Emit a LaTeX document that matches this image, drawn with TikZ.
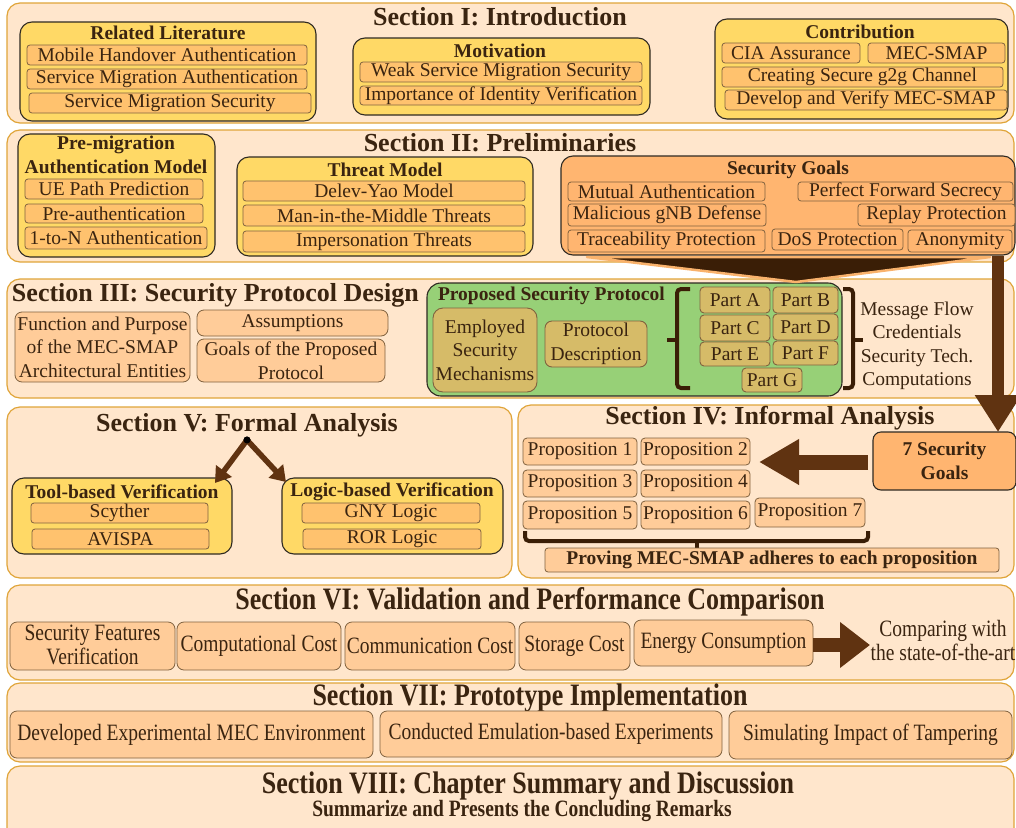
\documentclass[tikz,border=0pt]{standalone}
\usepackage{fontspec}
\usepackage{graphicx}
\setmainfont{Liberation Serif}
\usetikzlibrary{arrows.meta}

\definecolor{panelfill}{HTML}{FFE6CC}
\definecolor{panelline}{HTML}{E0A53A}
\definecolor{goldfill}{HTML}{FFD966}
\definecolor{goldsub}{HTML}{FFC26E}
\definecolor{lightor}{HTML}{FFCC99}
\definecolor{sgfill}{HTML}{FFB570}
\definecolor{protfill}{HTML}{97D077}
\definecolor{khaki}{HTML}{D6BB68}
\definecolor{ink}{HTML}{3A2410}
\definecolor{darkline}{HTML}{2F2A22}
\definecolor{subline}{HTML}{80623F}
\definecolor{arrowbrown}{HTML}{603311}
\definecolor{funnelfill}{HTML}{3A1E06}
\definecolor{funnelrim}{HTML}{F9B26C}

\newcommand{\bodyfont}{\fontsize{19.5}{23.5}\selectfont}
\newcommand{\ttlfont}{\fontsize{26}{28}\selectfont\bfseries}
\newcommand{\tall}[1]{\scalebox{1}[1.2]{#1}}
\newcommand{\tallstack}[1]{\scalebox{1}[1.2]{\fontsize{19.5}{19.5}\selectfont\begin{tabular}{@{}c@{}}#1\end{tabular}}}
% box from corner (x1,y1) to corner (x2,y2), in pixel units
\newcommand{\bx}[7]{%
  \node[#2, minimum width={(#5-#3)*1pt}, minimum height={(#6-#4)*1pt}] (#1) at ({(#3+#5)/2},{(#4+#6)/2}) {#7};}

\tikzset{
  panel/.style={fill=panelfill, draw=panelline, line width=1.2pt, rounded corners=13pt},
  goldbox/.style={fill=goldfill, draw=darkline, line width=1.1pt, rounded corners=12pt},
  sub/.style={fill=goldsub, draw=subline, line width=0.8pt, rounded corners=3pt},
  obox/.style={fill=lightor, draw=subline, line width=0.8pt, rounded corners=7pt},
  sgbox/.style={fill=sgfill, draw=darkline, line width=1.1pt, rounded corners=12pt},
  sgsub/.style={fill=sgfill, draw=subline, line width=0.8pt, rounded corners=3pt},
  protbox/.style={fill=protfill, draw=darkline, line width=1.1pt, rounded corners=14pt},
  kbox/.style={fill=khaki, draw=subline, line width=0.9pt, rounded corners=4pt},
  hdr/.style={font=\bodyfont\bfseries},
  ttl/.style={font=\ttlfont},
  bracket/.style={draw=funnelfill, line width=4pt, rounded corners=4pt},
  fatarrow/.style={draw=arrowbrown, line width=5.5pt, -{Triangle[width=19pt,length=15pt]}},
}

\begin{document}
\begin{tikzpicture}[x=1pt, y=-1pt,
  every node/.append style={font=\bodyfont, text=ink, inner sep=0pt, outer sep=0pt, align=center}]
\clip (0,0) rectangle (1016,827);
\fill[white] (0,0) rectangle (1016,827);

% ---------------- Section I ----------------
\bx{s1}{panel}{7}{3}{1014}{123}{}
\node[ttl] (s1T) at (500,17) {Section I: Introduction};
\bx{rl}{goldbox}{20}{22}{316}{121}{}
\node[hdr] (rlH) at (168,33) {Related Literature};
\bx{rl1}{sub}{27}{45}{307}{65}{Mobile Handover Authentication}
\bx{rl2}{sub}{27}{69}{307}{89}{Service Migration Authentication}
\bx{rl3}{sub}{29}{93}{311}{113}{Service Migration Security}
\bx{mo}{goldbox}{353}{38}{650}{115}{}
\node[hdr] (moH) at (500,51) {Motivation};
\bx{mo1}{sub}{360}{62}{642}{82}{Weak Service Migration Security}
\bx{mo2}{sub}{360}{86}{642}{105}{Importance of Identity Verification}
\bx{co}{goldbox}{715}{19}{1008}{119}{}
\node[hdr] (coH) at (860,32) {Contribution};
\bx{co1}{sub}{722}{43}{860}{63}{CIA Assurance}
\bx{co2}{sub}{868}{43}{1005}{63}{MEC-SMAP}
\bx{co3}{sub}{722}{67}{1003}{87}{Creating Secure g2g Channel}
\bx{co4}{sub}{725}{90}{1007}{110}{Develop and Verify MEC-SMAP}

% ---------------- Section II ----------------
\bx{s2}{panel}{7}{130}{1014}{262}{}
\node[ttl] (s2T) at (500,143) {Section II: Preliminaries};
\bx{pm}{goldbox}{18}{134}{215}{257}{}
\node[hdr] (pmH1) at (116,145) {Pre-migration};
\node[hdr] (pmH2) at (116,167) {Authentication Model};
\bx{pm1}{sub}{25}{179}{203}{199}{UE Path Prediction}
\bx{pm2}{sub}{25}{204}{203}{223}{Pre-authentication}
\bx{pm3}{sub}{25}{227}{207}{249}{1-to-N Authentication}
\bx{tm}{goldbox}{237}{157}{533}{256}{}
\node[hdr] (tmH) at (385,170) {Threat Model};
\bx{tm1}{sub}{243}{181}{525}{201}{Delev-Yao Model}
\bx{tm2}{sub}{243}{205}{525}{226}{Man-in-the-Middle Threats}
\bx{tm3}{sub}{243}{231}{525}{252}{Impersonation Threats}
\bx{sg}{sgbox}{561}{156}{1015}{255}{}
\node[hdr] (sgH) at (788,170) {Security Goals};
\bx{sg1}{sgsub}{568}{182}{765}{201}{Mutual Authentication}
\bx{sg2}{sgsub}{798}{182}{1013}{201}{Perfect Forward Secrecy}
\bx{sg3}{sgsub}{568}{204}{766}{226}{Malicious gNB Defense}
\bx{sg4}{sgsub}{858}{204}{1015}{226}{Replay Protection}
\bx{sg5}{sgsub}{568}{230}{765}{252}{Traceability Protection}
\bx{sg6}{sgsub}{772}{229}{903}{250}{DoS Protection}
\bx{sg7}{sgsub}{908}{230}{1012}{252}{Anonymity}

% ---------------- Section III ----------------
\bx{s3}{panel}{7}{279}{1014}{398}{}
\node[ttl, anchor=west] (s3T) at (12,295) {Section III: Security Protocol Design};
\bx{fp}{obox}{15}{312}{190}{382}{Function and Purpose\\of the MEC-SMAP\\Architectural Entities}
\bx{as}{obox}{197}{310}{388}{336}{Assumptions}
\bx{gl}{obox}{197}{339}{385}{382}{Goals of the Proposed\\Protocol}
\bx{ps}{protbox}{427}{283}{842}{396}{}
\node[hdr, anchor=west] (psH) at (438,296) {Proposed Security Protocol};
\bx{em}{kbox, rounded corners=10pt}{433}{308}{537}{392}{Employed\\Security\\Mechanisms}
\bx{pd}{kbox, rounded corners=7pt}{545}{321}{647}{367}{Protocol\\Description}
\bx{pa}{kbox}{700}{287}{770}{313}{Part A}
\bx{pb}{kbox}{773}{287}{838}{313}{Part B}
\bx{pc}{kbox}{700}{315}{770}{341}{Part C}
\bx{pdd}{kbox}{773}{314}{838}{340}{Part D}
\bx{pe}{kbox}{700}{342}{770}{366}{Part E}
\bx{pf}{kbox}{773}{341}{838}{365}{Part F}
\bx{pg}{kbox}{742}{368}{802}{392}{Part G}
% brackets around the protocol parts
\draw[bracket] (690,289) -- (677,289) -- (677,388) -- (690,388);
\draw[draw=funnelfill, line width=4pt] (677,340) -- (667,340);
\draw[bracket] (843,289) -- (853,289) -- (853,388) -- (843,388);
\draw[draw=funnelfill, line width=4pt] (853,340) -- (863,340);
\node (mf) at (917,346) {Message Flow\\Credentials\\Security Tech.\\Computations};

% funnel from the security goals into the protocol
\filldraw[fill=funnelfill, draw=funnelrim, line width=2.5pt, line join=round]
  (587,257) -- (990,257) -- (796,282) -- cycle;

% ---------------- Section V ----------------
\bx{s5}{panel}{7}{407}{512}{578}{}
\node[ttl] (s5T) at (247,425) {Section V: Formal Analysis};
\bx{tb}{goldbox}{12}{478}{232}{554}{}
\node[hdr] (tbH) at (122,492) {Tool-based Verification};
\bx{tb1}{sub}{31}{503}{208}{523}{Scyther}
\bx{tb2}{sub}{32}{529}{209}{549}{AVISPA}
\bx{lb}{goldbox}{282}{478}{503}{554}{}
\node[hdr] (lbH) at (392,492) {Logic-based Verification};
\bx{lb1}{sub}{302}{503}{480}{523}{GNY Logic}
\bx{lb2}{sub}{303}{529}{481}{549}{ROR Logic}
\node[circle, fill=black, minimum size=7pt] (fork) at (247,440) {};
\coordinate (tbTip) at (215,483);
\coordinate (lbTip) at (286,482);
\draw[fatarrow] (fork.center) -- (tbTip);
\draw[fatarrow] (fork.center) -- (lbTip);
\node[circle, fill=black, minimum size=7pt] at (fork) {};

% ---------------- Section IV ----------------
\bx{s4}{panel}{518}{405}{1014}{578}{}
\node[ttl] (s4T) at (770,418) {Section IV: Informal Analysis};
\bx{g7}{sgbox, rounded corners=8pt}{873}{432}{1016}{490}{\textbf{7 Security}\\\textbf{Goals}}
\bx{pr1}{obox, rounded corners=4pt}{523}{438}{637}{465}{Proposition 1}
\bx{pr2}{obox, rounded corners=4pt}{641}{438}{750}{465}{Proposition 2}
\bx{pr3}{obox, rounded corners=4pt}{523}{470}{637}{497}{Proposition 3}
\bx{pr4}{obox, rounded corners=4pt}{641}{470}{750}{497}{Proposition 4}
\bx{pr5}{obox, rounded corners=4pt}{523}{501}{637}{529}{Proposition 5}
\bx{pr6}{obox, rounded corners=4pt}{641}{501}{750}{529}{Proposition 6}
\bx{pr7}{obox, rounded corners=4pt}{755}{498}{865}{527}{Proposition 7}
\draw[bracket] (525,531) -- (525,541) -- (868,541) -- (868,531);
\draw[draw=funnelfill, line width=4pt] (697,541) -- (697,549);
\bx{pv}{obox, rounded corners=3pt}{545}{548}{999}{572}{\textbf{Proving MEC-SMAP adheres to each proposition}}
\coordinate (propTip) at (759,462);
\draw[draw=arrowbrown, line width=15pt, -{Triangle[width=43pt,length=40pt]}, shorten <=5pt] (g7.west |- propTip) -- (propTip);

% goals arrow running down into Section IV
\coordinate (goalsOut) at (998,256);
\draw[draw=arrowbrown, line width=12pt, -{Triangle[width=44pt,length=37pt]}] (goalsOut) -- (goalsOut |- g7.north);

% ---------------- Section VI ----------------
\bx{s6}{panel}{7}{585}{1014}{680}{}
\node[ttl] (s6T) at (530,602) {\tall{Section VI: Validation and Performance Comparison}};
\bx{sf}{obox}{10}{622}{175}{670}{}
\node (sfT) at (92.5,648) {\tallstack{Security Features\\Verification}};
\bx{cc}{obox}{177}{622}{341}{670}{\tall{Computational Cost}}
\bx{cm}{obox}{345}{622}{515}{670}{\tall{Communication Cost}}
\bx{st}{obox}{519}{622}{630}{670}{\tall{Storage Cost}}
\bx{en}{obox}{634}{620}{813}{666}{\tall{Energy Consumption}}
\coordinate (cmpTip) at (870,645);
\draw[draw=arrowbrown, line width=14pt, -{Triangle[width=44pt,length=30pt]}] (en.east |- cmpTip) -- (cmpTip);
\node (cmp) at (943,644) {\tallstack{Comparing with\\the state-of-the-art}};

% ---------------- Section VII ----------------
\bx{s7}{panel}{7}{683}{1014}{762}{}
\node[ttl] (s7T) at (530,698) {\tall{Section VII: Prototype Implementation}};
\bx{de}{obox}{10}{711}{373}{758}{\tall{Developed Experimental MEC Environment}}
\bx{ce}{obox}{380}{711}{722}{757}{\tall{Conducted Emulation-based Experiments}}
\bx{si}{obox}{729}{711}{1012}{759}{\tall{Simulating Impact of Tampering}}

% ---------------- Section VIII ----------------
\bx{s8}{panel}{7}{766}{1014}{845}{}
\node[ttl] (s8T) at (528,786) {\tall{Section VIII: Chapter Summary and Discussion}};
\node[font=\fontsize{19.5}{21}\selectfont\bfseries] (s8S) at (522,811) {\tall{Summarize and Presents the Concluding Remarks}};
\end{tikzpicture}
\end{document}
